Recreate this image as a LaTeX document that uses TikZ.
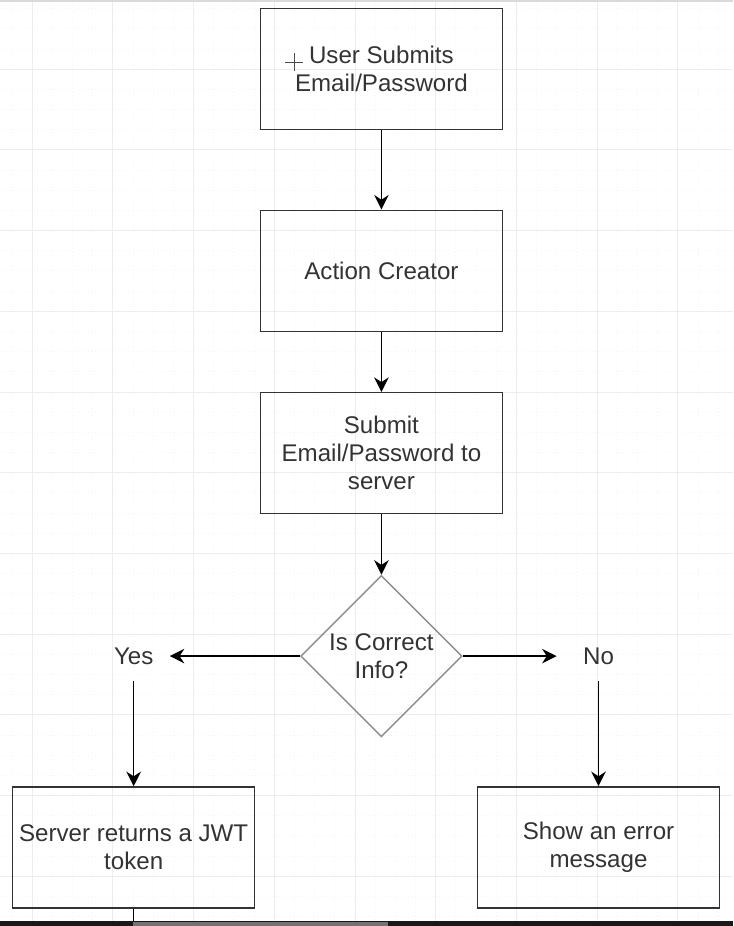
\documentclass[tikz,border=0pt]{standalone}
\usepackage{fontspec}
\setmainfont{Liberation Sans}
\usetikzlibrary{shapes.geometric,arrows.meta}
\begin{document}
\begin{tikzpicture}[
    box/.style={draw=black!80,line width=1pt,minimum width=6cm,minimum height=3cm,align=center,text=black!80,font=\fontsize{17}{19.75}\selectfont},
    decision/.style={diamond,draw=black!45,line width=1pt,minimum width=4cm,minimum height=4cm,inner sep=0pt,aspect=1,align=center,text=black!80,font=\fontsize{17}{19.75}\selectfont},
    answer/.style={inner sep=0.4cm,text=black!80,font=\fontsize{17}{19.75}\selectfont},
    flow/.style={line width=1.1pt,-{Stealth[length=0.36cm,width=0.36cm]}}]
            \useasboundingbox (-0.793,-21.239) rectangle (17.373,1.71);
            \draw[step=0.5cm,black!4,dotted] (-0.793,-21.239) grid (17.373,1.71);
            \draw[step=2cm,black!7] (-0.793,-21.239) grid (17.373,1.71);
            \fill[black!15] (-0.793,1.71) rectangle (17.373,1.665);
            \node[box] (submit) at (8.66,0) {User Submits\\Email/Password};
            \node[box] (creator) at (8.66,-5) {Action Creator};
            \node[box] (server) at (8.66,-9.52) {Submit\\Email/Password to\\server};
            \node[decision] (check) at (8.66,-14.55) {Is Correct\\Info?};
            \node[answer] (yes) at (2.52,-14.55) {Yes};
            \node[answer,inner xsep=0.65cm] (no) at (14.04,-14.55) {No};
            \node[box] (token) at (2.52,-19.29) {Server returns a JWT\\token};
            \node[box] (error) at (14.04,-19.29) {Show an error\\message};
            \draw[black!70,line width=0.5pt] (6.28,0.16) -- (6.72,0.16) (6.5,0.4) -- (6.5,-0.04);
            \draw[flow] (submit) -- (creator);
            \draw[flow] (creator) -- (server);
            \draw[flow] (server) -- (check);
            \draw[flow] (check) -- (yes);
            \draw[flow] (check) -- (no);
            \draw[flow] (yes) -- (token);
            \draw[flow] (no) -- (error);
            \coordinate (cut) at (2.52,-21.115);
            \draw[line width=1pt] (token) -- (cut);
            \fill[black!90] (-0.793,-21.239) rectangle (17.373,-21.115);
            \fill[black!55] (2.503,-21.239) rectangle (8.82,-21.14);
          \end{tikzpicture}
\end{document}
